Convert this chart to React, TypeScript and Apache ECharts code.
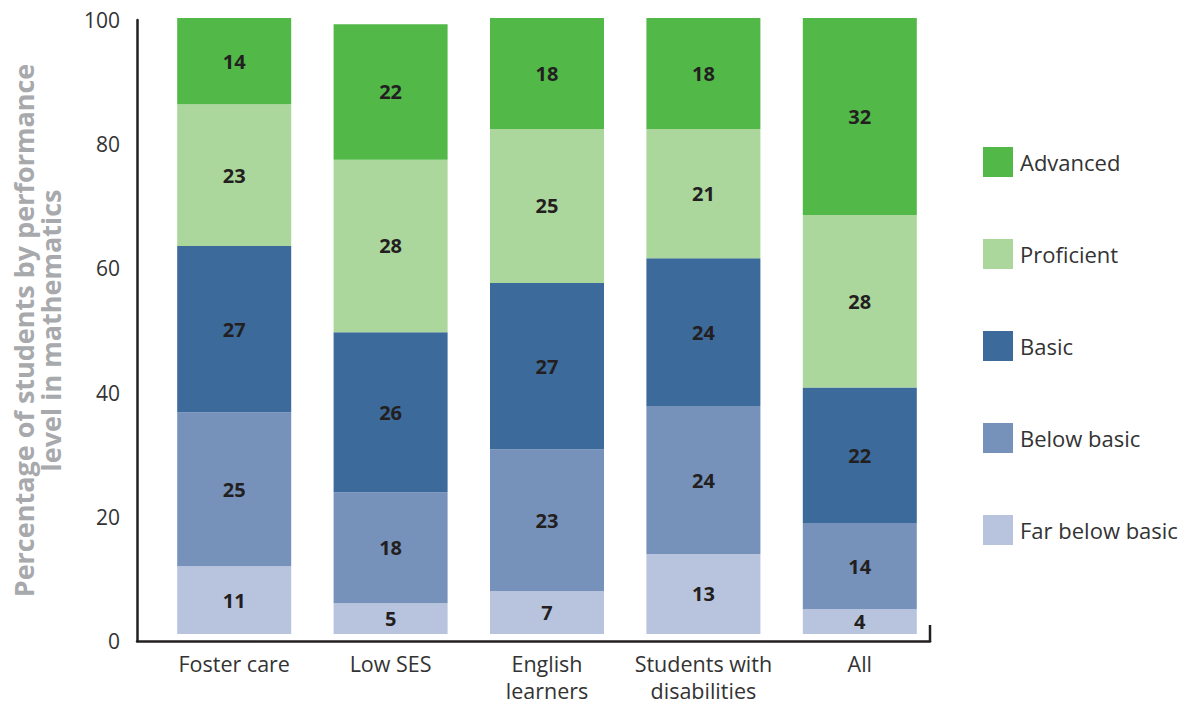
import React, { useEffect, useRef } from "react";
import * as echarts from "echarts";

const categories = ["Foster care", "Low SES", "English\nlearners", "Students with\ndisabilities", "All"];
const farBelowBasic = [11, 5, 7, 13, 4];
const belowBasic = [25, 18, 23, 24, 14];
const basic = [27, 26, 27, 24, 22];
const proficient = [23, 28, 25, 21, 28];
const advanced = [14, 22, 18, 18, 32];
const yTicks = { min: 0, max: 100, interval: 20 };
const legendOrder = ["Advanced", "Proficient", "Basic", "Below basic", "Far below basic"];

const FONT = "'Open Sans', sans-serif";

export default function App() {
  const ref = useRef<HTMLDivElement>(null);
  useEffect(() => {
    if (!ref.current) return;
    const chart = echarts.init(ref.current, undefined, { renderer: "svg" });
    const mk = (name: string, data: number[], color: string) => ({
      name,
      type: "bar",
      stack: "total",
      data,
      xAxisIndex: 0,
      yAxisIndex: 0,
      barWidth: 114,
      itemStyle: { color },
      label: {
        show: true,
        position: "inside",
        fontFamily: FONT,
        fontWeight: "bold",
        fontSize: 20,
        color: "#231f20",
      },
    });
    chart.setOption({
      animation: false,
      textStyle: { fontFamily: FONT },
      grid: [
        { left: 156, right: 251, top: 18, bottom: 71, outerBoundsMode: "none", containLabel: false },
        { left: 137, right: 259, top: 20, bottom: 64, outerBoundsMode: "none", containLabel: false },
      ],
      xAxis: [
        {
          type: "category",
          gridIndex: 0,
          data: categories,
          axisLine: { show: false },
          axisTick: { show: false },
          axisLabel: {
            interval: 0,
            fontFamily: FONT,
            fontSize: 21.5,
            color: "#333",
            margin: 16,
            lineHeight: 27,
            verticalAlign: "top",
          },
        },
        {
          type: "value",
          gridIndex: 1,
          min: 0,
          max: 1,
          axisLine: { show: true, lineStyle: { color: "#231f20", width: 2.5 } },
          axisTick: { show: false },
          axisLabel: { show: false },
          splitLine: { show: false },
        },
      ],
      yAxis: [
        {
          type: "value",
          gridIndex: 0,
          min: yTicks.min,
          max: yTicks.max,
          show: false,
        },
        {
          type: "value",
          gridIndex: 1,
          min: yTicks.min,
          max: yTicks.max,
          interval: yTicks.interval,
          axisLine: { show: true, lineStyle: { color: "#231f20", width: 2.5 } },
          axisTick: { show: false },
          splitLine: { show: false },
          axisLabel: { fontFamily: FONT, fontSize: 21, color: "#333", margin: 17 },
          name: "Percentage of students by performance\nlevel in mathematics",
          nameLocation: "middle",
          nameRotate: 90,
          nameGap: 73,
          nameTextStyle: {
            fontFamily: FONT,
            fontWeight: "bold",
            fontSize: 27,
            color: "#a7a9ac",
            lineHeight: 27,
          },
        },
      ],
      legend: {
        orient: "vertical",
        left: 983,
        top: 147,
        padding: 0,
        itemWidth: 30,
        itemHeight: 30,
        itemGap: 62,
        data: legendOrder,
        icon: "rect",
        textStyle: { fontFamily: FONT, fontSize: 22, color: "#333", padding: [0, 0, 0, 2] },
      },
      graphic: [
        {
          type: "line",
          shape: { x1: 930, y1: 625, x2: 930, y2: 642 },
          style: { stroke: "#231f20", lineWidth: 2.5 },
        },
      ],
      series: [
        mk("Far below basic", farBelowBasic, "#b8c4de"),
        mk("Below basic", belowBasic, "#7692ba"),
        mk("Basic", basic, "#3b6a9b"),
        mk("Proficient", proficient, "#abd69c"),
        mk("Advanced", advanced, "#52b848"),
      ],
    });
    return () => chart.dispose();
  }, []);
  return <div ref={ref} style={{ width: 1189, height: 705, position: "absolute", left: 0, top: 0 }} />;
}
